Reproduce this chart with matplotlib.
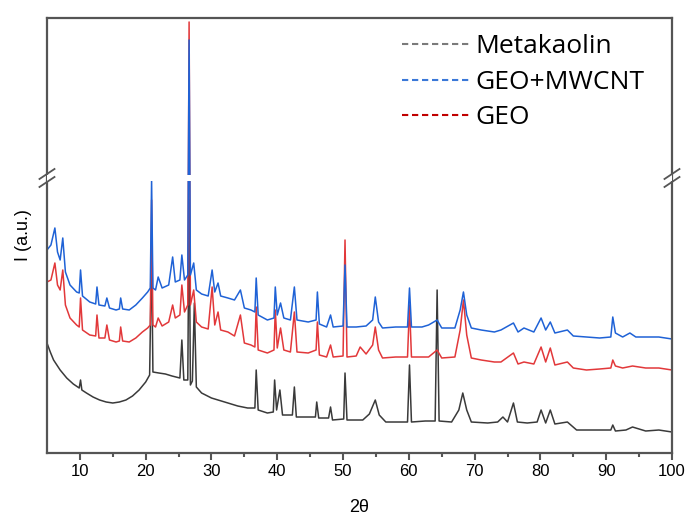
import matplotlib
matplotlib.use("Agg")
import matplotlib.pyplot as plt
from matplotlib.lines import Line2D
from matplotlib.transforms import blended_transform_factory

# 2theta positions and intensities (arbitrary units)
geo_mwcnt_x = [5.0, 5.6, 6.2, 6.6, 7.0, 7.4, 7.8, 8.5, 9.5, 9.9, 10.1, 10.4, 11.5, 12.4, 12.6, 12.9,
               13.8, 14.1, 14.5, 15.5, 16.0, 16.2, 16.5, 17.5, 18.5, 19.5, 20.3, 20.7, 20.9, 21.1,
               21.5, 21.9, 22.5, 23.5, 24.1, 24.5, 25.2, 25.5, 25.9, 26.4, 26.6, 26.8, 27.3, 27.7,
               28.5, 29.5, 30.1, 30.5, 31.0, 31.4, 32.5, 33.5, 34.4, 35.0, 36.0, 36.6, 36.8, 37.1,
               38.5, 39.5, 39.7, 40.0, 40.5, 41.0, 42.0, 42.6, 43.0, 44.7, 45.9, 46.1, 46.4, 47.5,
               48.1, 48.5, 50.0, 50.3, 50.6, 52.0, 53.5, 54.5, 54.9, 55.4, 56.0, 58.0, 59.8, 60.1,
               60.4, 62.0, 63.0, 64.3, 65.0, 67.0, 67.8, 68.3, 68.8, 69.5, 71.0, 73.0, 74.0, 75.9,
               76.6, 77.5, 79.0, 80.1, 80.8, 81.5, 82.2, 84.1, 85.0, 87.0, 89.0, 90.7, 91.0, 91.4,
               92.5, 93.6, 94.5, 96.0, 98.0, 100.0]
geo_mwcnt_y = [203, 208, 225, 201, 193, 215, 181, 168, 161, 160, 183, 157, 151, 149, 166, 148,
               147, 155, 145, 143, 144, 155, 144, 143, 148, 155, 161, 165, 273, 165,
               163, 176, 165, 168, 196, 171, 173, 198, 173, 178, 413, 178, 190, 163,
               159, 157, 183, 161, 170, 157, 155, 153, 163, 145, 143, 141, 175, 138,
               133, 135, 166, 138, 150, 135, 133, 166, 133, 131, 133, 161, 129, 126,
               138, 126, 127, 188, 126, 126, 127, 133, 156, 131, 125, 126, 126, 165,
               126, 126, 128, 133, 125, 125, 143, 161, 138, 125, 123, 121, 123, 130,
               121, 125, 121, 135, 123, 131, 120, 123, 117, 116, 115, 116, 136, 120,
               116, 120, 116, 116, 116, 114]

geo_x = [5.0, 5.6, 6.2, 6.6, 7.0, 7.4, 7.8, 8.5, 9.5, 9.9, 10.1, 10.4, 11.5, 12.4, 12.6, 12.9,
         13.8, 14.1, 14.5, 15.5, 16.0, 16.2, 16.5, 17.5, 18.5, 19.5, 20.3, 20.7, 20.9, 21.1,
         21.5, 21.9, 22.5, 23.5, 24.1, 24.5, 25.2, 25.5, 25.9, 26.4, 26.6, 26.8, 27.3, 27.7,
         28.5, 29.5, 30.1, 30.5, 31.0, 31.4, 32.5, 33.5, 34.4, 35.0, 36.0, 36.6, 36.8, 37.1,
         38.5, 39.5, 39.7, 40.0, 40.5, 41.0, 42.0, 42.6, 43.0, 44.7, 45.9, 46.1, 46.4, 47.5,
         48.1, 48.5, 50.0, 50.3, 50.6, 52.0, 52.6, 53.5, 54.5, 54.9, 55.4, 56.0, 58.0, 59.8,
         60.1, 60.4, 62.0, 63.0, 64.3, 65.0, 67.0, 67.8, 68.3, 68.8, 69.5, 71.0, 73.0, 74.0,
         75.9, 76.6, 77.5, 79.0, 80.1, 80.8, 81.5, 82.2, 84.1, 85.0, 87.0, 89.0, 90.7, 91.0,
         91.4, 92.5, 94.0, 96.0, 98.0, 100.0]
geo_y = [171, 173, 190, 168, 163, 183, 148, 135, 128, 126, 155, 123, 118, 117, 138, 115,
         115, 128, 113, 111, 112, 126, 112, 111, 115, 121, 125, 128, 253, 128,
         126, 135, 127, 131, 148, 135, 138, 168, 141, 148, 431, 148, 163, 131,
         126, 124, 166, 128, 141, 123, 121, 117, 138, 110, 108, 106, 146, 103,
         100, 103, 143, 105, 125, 103, 101, 141, 101, 100, 103, 131, 98, 96,
         108, 96, 97, 213, 96, 97, 106, 99, 108, 126, 103, 95, 96, 96,
         148, 96, 96, 96, 103, 95, 96, 123, 153, 118, 95, 93, 91, 91,
         100, 89, 91, 89, 106, 91, 105, 88, 91, 85, 83, 84, 85, 93,
         87, 85, 87, 85, 85, 83]

meta_x = [5.0, 5.5, 6.0, 7.0, 8.0, 9.0, 9.9, 10.1, 10.3, 11.0, 12.0, 13.0, 14.0, 15.0, 16.0,
          17.0, 18.0, 19.0, 20.0, 20.6, 20.9, 21.1, 22.0, 23.0, 24.0, 25.2, 25.5, 25.8, 26.4,
          26.6, 26.8, 27.1, 27.4, 27.7, 28.5, 30.0, 32.0, 34.0, 35.5, 36.6, 36.8, 37.1, 38.5,
          39.4, 39.6, 39.9, 40.4, 40.8, 42.3, 42.6, 42.9, 45.8, 46.0, 46.3, 47.8, 48.1, 48.4,
          50.1, 50.3, 50.6, 53.0, 54.0, 54.9, 55.5, 56.5, 59.8, 60.1, 60.4, 62.5, 64.0, 64.3,
          64.6, 66.5, 67.6, 68.2, 68.8, 69.5, 72.0, 73.5, 74.3, 75.0, 75.9, 76.5, 78.0, 79.5,
          80.1, 80.8, 81.5, 82.2, 84.1, 85.5, 88.0, 90.7, 91.0, 91.4, 93.0, 94.0, 96.0, 98.0,
          100.0]
meta_y = [110, 101, 93, 83, 75, 69, 65, 73, 63, 60, 56, 53, 51, 50, 51,
          53, 57, 63, 71, 78, 203, 81, 80, 79, 77, 75, 113, 73, 73,
          253, 68, 72, 150, 66, 60, 55, 51, 47, 45, 45, 83, 43, 40,
          41, 73, 43, 63, 38, 38, 66, 36, 36, 51, 35, 35, 46, 33,
          34, 80, 33, 33, 39, 53, 38, 31, 31, 88, 31, 32, 32, 163,
          32, 31, 43, 60, 43, 31, 30, 31, 36, 31, 50, 31, 30, 31,
          43, 30, 43, 29, 31, 23, 23, 23, 28, 22, 23, 26, 22, 23,
          21]

labels = ["Metakaolin", "GEO+MWCNT", "GEO"]
x_ticks = [10, 20, 30, 40, 50, 60, 70, 80, 90, 100]

fig = plt.figure(figsize=(6.91, 5.21), dpi=100)
ax = fig.add_axes([0.068, 0.1305, 0.9045, 0.835])

ax.plot(meta_x, meta_y, color="#3a3a3a", lw=1.1)
ax.plot(geo_x, geo_y, color="#e2383a", lw=1.1)
ax.plot(geo_mwcnt_x, geo_mwcnt_y, color="#1f62d6", lw=1.1)

ax.set_xlim(5, 100)
ax.set_ylim(0, 435)
ax.set_xticks(x_ticks)
ax.set_xticks(range(15, 100, 10), minor=True)
ax.set_yticks([])
ax.tick_params(axis="x", which="major", direction="out", length=5, width=1.5,
               color="#555555", labelsize=12, pad=3)
ax.tick_params(axis="x", which="minor", direction="out", length=3, width=1.5, color="#555555")
for lab in ax.get_xticklabels():
    lab.set_family("Liberation Sans")
for s in ax.spines.values():
    s.set_color("#555555")
    s.set_linewidth(1.6)

ax.set_xlabel("2θ", fontsize=13, family="Liberation Sans", labelpad=14)
ax.set_ylabel("I (a.u.)", fontsize=13, family="Liberation Sans", labelpad=11)

# axis break: white strip plus slanted marks on both spines
ax.axhspan(272, 278, color="white", zorder=3, lw=0)
trans = blended_transform_factory(ax.transAxes, ax.transData)
for xa in (0, 1):
    for yb in (271, 279):
        ax.plot([xa - 0.012, xa + 0.012], [yb - 5, yb + 5], color="#555555", lw=1.3,
                transform=trans, clip_on=False, zorder=4)

handles = [Line2D([], [], color=c, lw=1.5, ls=(0, (3, 1.8)))
           for c in ("#7a7a7a", "#3b78d8", "#c00000")]
ax.legend(handles, labels, loc="upper left", bbox_to_anchor=(0.538, 1.005), frameon=False,
          prop={"family": "Open Sans", "size": 19}, handlelength=2.55, handletextpad=0.25,
          labelspacing=0.4, borderaxespad=0.3)

fig.savefig("out.png", dpi=100)
